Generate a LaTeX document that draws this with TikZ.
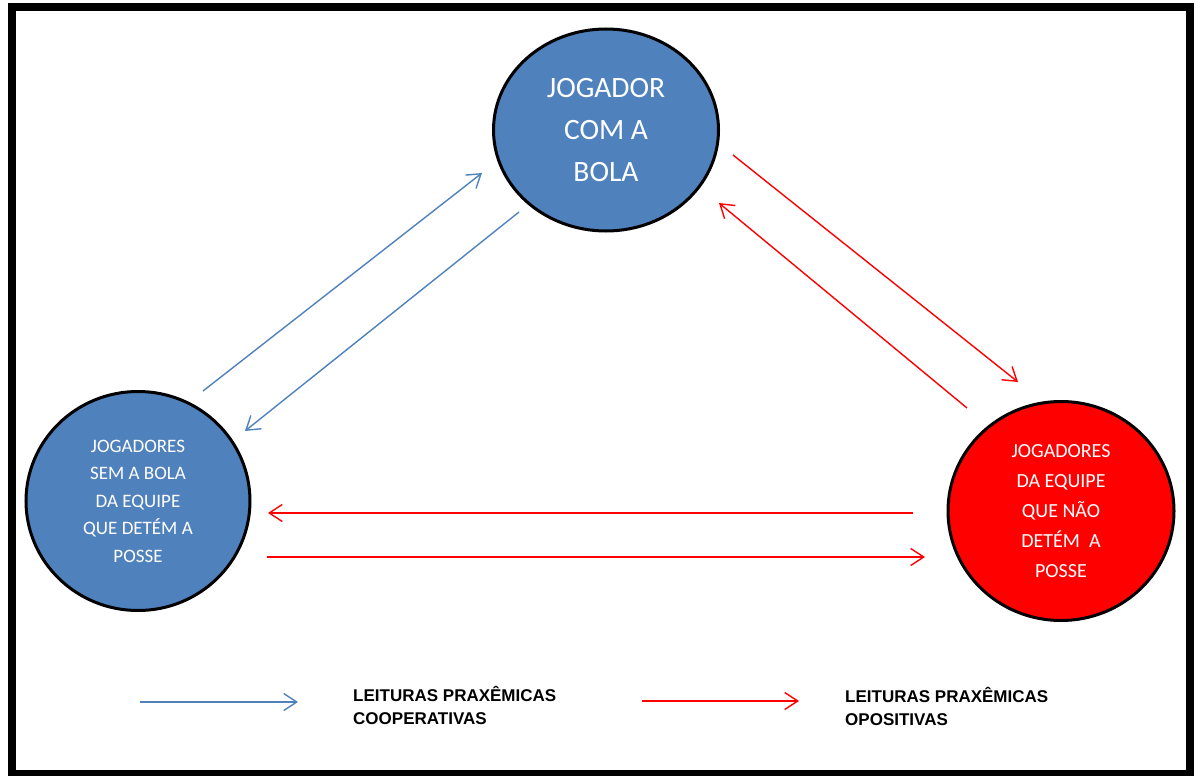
\documentclass[tikz,border=0pt]{standalone}
\usepackage{fontspec}
\setmainfont{Carlito}
\newfontfamily\legfont{Liberation Sans}
\usetikzlibrary{arrows.meta,shapes.geometric}
\definecolor{cblue}{RGB}{79,129,189}
\definecolor{cred}{RGB}{255,0,0}
\begin{document}
\begin{tikzpicture}[x=1pt,y=-1pt,
  player/.style={ellipse, draw=black, line width=3pt, text=white, align=center, inner sep=0pt},
  coop/.style={draw=cblue, line width=1.4pt, -{Straight Barb[length=13pt,width=17pt]}},
  opos/.style={draw=cred, line width=1.4pt, -{Straight Barb[length=13pt,width=17pt]}},
  legtext/.style={font=\legfont\bfseries\fontsize{17}{23}\selectfont, align=left, anchor=base west, text=black, inner sep=0pt}
]
\useasboundingbox (0,0) rectangle (1194,776);
\draw[line width=8pt] (12,7) rectangle (1190,774);

\node[player, fill=cblue, minimum width=225pt, minimum height=202pt,
      font=\fontsize{29.5}{42}\selectfont] (top) at (606,130) {JOGADOR\\COM A\\BOLA};
\node[player, fill=cblue, minimum width=224pt, minimum height=219pt,
      font=\fontsize{19}{27.5}\selectfont] (left) at (138,501) {JOGADORES\\SEM A BOLA\\DA EQUIPE\\QUE DETÉM A\\POSSE};
\node[player, fill=cred, minimum width=226pt, minimum height=219pt,
      font=\fontsize{20}{30}\selectfont] (right) at (1061,511) {JOGADORES\\DA EQUIPE\\QUE NÃO\\DETÉM~ A\\POSSE};

% connector ends
\coordinate (b1s) at (203,391); \coordinate (b1e) at (482,173);
\coordinate (b2s) at (519,212); \coordinate (b2e) at (245,431);
\coordinate (r1s) at (733,155); \coordinate (r1e) at (1018,382);
\coordinate (r2s) at (967,408); \coordinate (r2e) at (719,203);
\coordinate (r3s) at (913,513); \coordinate (r3e) at (268,513);
\coordinate (r4s) at (267,557); \coordinate (r4e) at (925,557);

\draw[coop] (b1s) -- (b1e);
\draw[coop] (b2s) -- (b2e);
\draw[opos] (r1s) -- (r1e);
\draw[opos] (r2s) -- (r2e);
\draw[opos] (r3s) -- (r3e);
\draw[opos] (r4s) -- (r4e);

% legend
\coordinate (lb1) at (140,702); \coordinate (lb2) at (298,702);
\coordinate (lr1) at (642,701); \coordinate (lr2) at (799,701);
\draw[coop] (lb1) -- (lb2);
\draw[opos] (lr1) -- (lr2);
\node[legtext] (lt1) at (353,724) {LEITURAS PRAXÊMICAS\\COOPERATIVAS};
\node[legtext] (lt2) at (845,725) {LEITURAS PRAXÊMICAS\\OPOSITIVAS};
\end{tikzpicture}
\end{document}
